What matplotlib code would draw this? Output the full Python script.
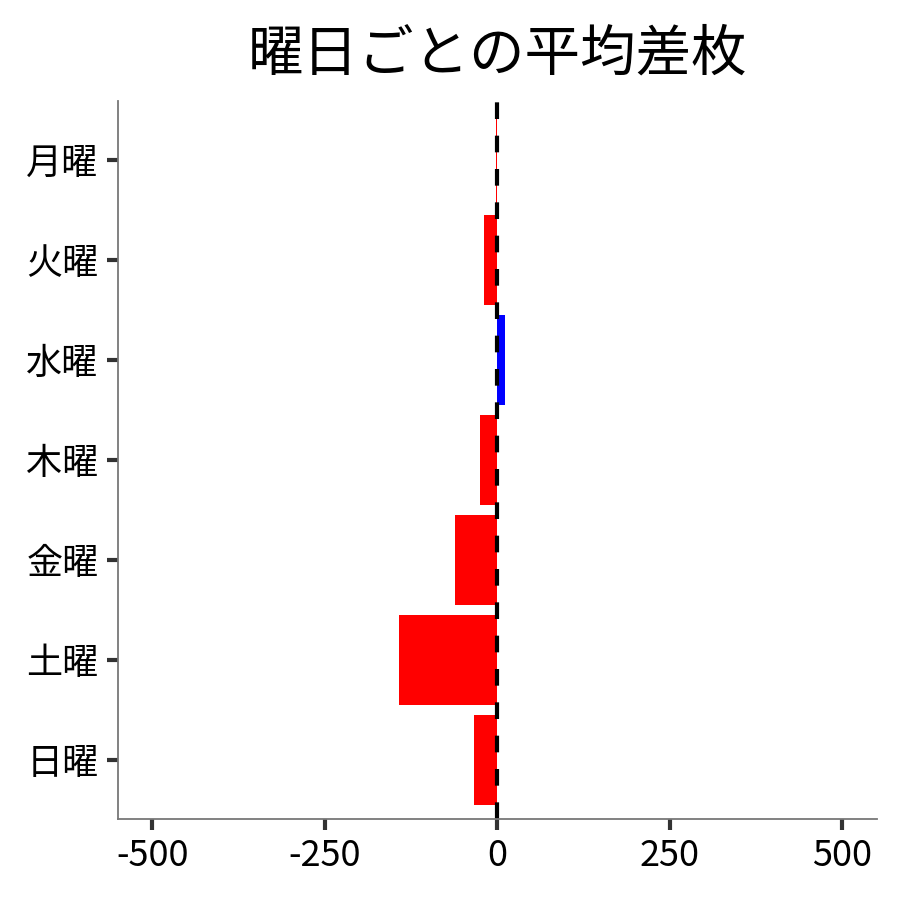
import matplotlib
matplotlib.use('Agg')
import matplotlib.pyplot as plt

plt.rcParams['font.family'] = ['Noto Sans CJK JP', 'DejaVu Sans']

# 曜日ごとの平均差枚
days = ['月曜', '火曜', '水曜', '木曜', '金曜', '土曜', '日曜']
avg_diff = [-2, -19, 11, -25, -61, -143, -33]
xticks = [-500, -250, 0, 250, 500]

colors = ['blue' if v > 0 else 'red' for v in avg_diff]
ypos = list(range(len(days)))[::-1]

fig = plt.figure(figsize=(9, 9), dpi=100)
ax = fig.add_axes([0.131, 0.09, 0.843, 0.798])

ax.barh(ypos, avg_diff, height=0.9, color=colors)
ax.axvline(0, color='black', linestyle='--', linewidth=3, dashes=(4, 4))

ax.set_xlim(-550, 550)
ax.set_ylim(-0.59, 6.59)
ax.set_yticks(ypos)
ax.set_yticklabels(days)
ax.set_xticks(xticks)
ax.set_xticklabels([str(t) for t in xticks])

ax.tick_params(axis='both', labelsize=26, length=8, width=3, color='#333333', pad=6)
for side in ['top', 'right']:
    ax.spines[side].set_visible(False)
for side in ['left', 'bottom']:
    ax.spines[side].set_color('#777777')
    ax.spines[side].set_linewidth(1.3)

ax.set_title('曜日ごとの平均差枚', fontsize=40, pad=22)

fig.savefig('out.png', dpi=100)
